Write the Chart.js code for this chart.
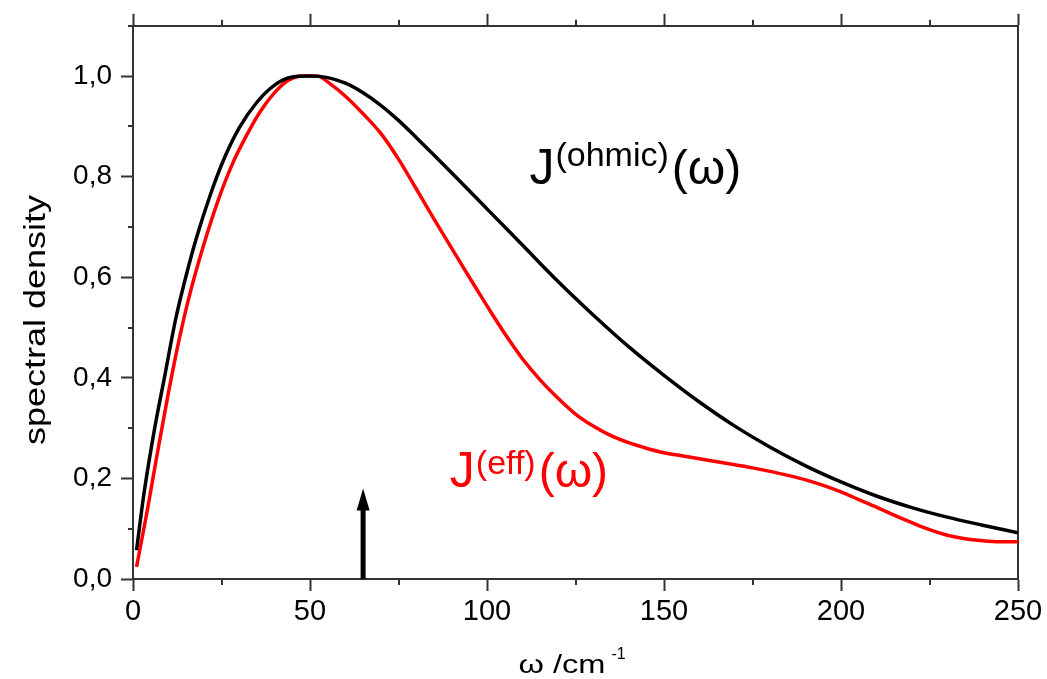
<!DOCTYPE html>
<html>
<head>
<meta charset="utf-8">
<script src="https://cdn.jsdelivr.net/npm/chart.js@4"></script>
<style>
  html, body { margin: 0; padding: 0; background: #fff; }
  #wrap { width: 1047px; height: 679px; position: relative; }
</style>
</head>
<body>
<div id="wrap"><canvas id="c" width="1047" height="679"></canvas></div>
<script>
// Ohmic spectral density J(ohmic)(w), normalised
const omegaOhmic = [1, 3, 6, 9, 12, 15, 18, 22, 26, 30, 35, 40, 45, 50, 55, 60, 65, 70, 75, 80, 90, 100, 110, 120, 130, 140, 150, 160, 170, 180, 190, 200, 210, 220, 230, 240, 250];
const jOhmic = [0.057, 0.165, 0.295, 0.405, 0.515, 0.603, 0.68, 0.767, 0.84, 0.897, 0.948, 0.982, 0.998, 1.0, 0.997, 0.986, 0.967, 0.942, 0.912, 0.878, 0.808, 0.736, 0.664, 0.592, 0.525, 0.462, 0.405, 0.352, 0.304, 0.262, 0.225, 0.193, 0.165, 0.142, 0.123, 0.107, 0.092];

// Effective spectral density J(eff)(w), normalised
const omegaEff = [1, 4, 7, 10, 13, 16, 20, 24, 28, 32, 36, 40, 44, 48, 52, 56, 60, 65, 70, 75, 80, 85, 90, 95, 100, 105, 110, 115, 120, 125, 130, 135, 140, 145, 150, 155, 160, 165, 170, 175, 180, 185, 190, 195, 200, 205, 210, 215, 220, 225, 230, 235, 240, 245, 250];
const jEff = [0.024, 0.135, 0.255, 0.37, 0.475, 0.565, 0.665, 0.752, 0.824, 0.881, 0.930, 0.967, 0.992, 1.0, 1.0, 0.983, 0.960, 0.925, 0.886, 0.835, 0.776, 0.716, 0.658, 0.600, 0.543, 0.488, 0.438, 0.396, 0.360, 0.328, 0.304, 0.285, 0.271, 0.260, 0.251, 0.245, 0.239, 0.233, 0.227, 0.221, 0.214, 0.206, 0.197, 0.186, 0.173, 0.158, 0.143, 0.127, 0.112, 0.098, 0.087, 0.080, 0.076, 0.074, 0.074];

// Marked frequency (arrow)
const arrowOmega = [65];
const arrowTop = [0.18];

// Axis ranges and tick steps
const xRange = [0, 250];
const yRange = [0, 1.1];
const xMajorStep = 50, xMinorStep = 25;
const yMajorStep = 0.2, yMinorStep = 0.1;

const AXIS_COLOR = '#333';
const FONT = '"Liberation Sans", Arial, sans-serif';

const toXY = (xs, ys) => xs.map((x, i) => ({ x, y: ys[i] }));

const isMajorX = v => Math.abs(v / xMajorStep - Math.round(v / xMajorStep)) < 1e-6;
const isMajorY = v => Math.abs(v / yMajorStep - Math.round(v / yMajorStep)) < 1e-6;

// short minor ticks, plus arrow, titles and curve labels
const decorations = {
  id: 'decorations',
  afterDraw(chart) {
    const { ctx, chartArea: a, scales } = chart;
    const xs = scales.x, ys = scales.y;
    ctx.save();
    ctx.strokeStyle = AXIS_COLOR;
    ctx.lineWidth = 2;
    // minor ticks
    for (let v = xRange[0]; v <= xRange[1] + 1e-9; v += xMinorStep) {
      if (isMajorX(v)) continue;
      const px = Math.round(xs.getPixelForValue(v));
      ctx.beginPath(); ctx.moveTo(px, a.bottom); ctx.lineTo(px, a.bottom + 6); ctx.stroke();
      ctx.beginPath(); ctx.moveTo(px, a.top); ctx.lineTo(px, a.top - 6); ctx.stroke();
    }
    for (let v = yRange[0]; v <= yRange[1] + 1e-9; v += yMinorStep) {
      if (isMajorY(v)) continue;
      const py = Math.round(ys.getPixelForValue(v));
      ctx.beginPath(); ctx.moveTo(a.left, py); ctx.lineTo(a.left - 5, py); ctx.stroke();
    }

    // arrow
    ctx.fillStyle = '#000';
    arrowOmega.forEach((w, i) => {
      const px = xs.getPixelForValue(w);
      const y0 = ys.getPixelForValue(0);
      const y1 = ys.getPixelForValue(arrowTop[i]);
      const headLen = 22, headHalf = 6.5;
      ctx.fillRect(px - 2.5, y1 + headLen - 2, 5, y0 - (y1 + headLen - 2));
      ctx.beginPath();
      ctx.moveTo(px, y1);
      ctx.lineTo(px + headHalf, y1 + headLen);
      ctx.lineTo(px - headHalf, y1 + headLen);
      ctx.closePath();
      ctx.fill();
    });

    // axis titles
    ctx.fillStyle = '#000';
    ctx.textBaseline = 'alphabetic';
    ctx.save();
    ctx.translate(45, 320);
    ctx.rotate(-Math.PI / 2);
    ctx.font = '29px ' + FONT;
    const yt = 'spectral density';
    const ytw = ctx.measureText(yt).width;
    ctx.scale(250 / ytw, 1);
    ctx.textAlign = 'center';
    ctx.fillText(yt, 0, 0);
    ctx.restore();

    ctx.save();
    const cx = (a.left + a.right) / 2;
    const startX = cx - 57;
    ctx.font = '25px ' + FONT;
    ctx.textAlign = 'left';
    const main = 'ω /cm';
    const mw = ctx.measureText(main).width;
    ctx.save();
    ctx.translate(startX, 673);
    ctx.scale(87 / mw, 1);
    ctx.fillText(main, 0, 0);
    ctx.restore();
    ctx.font = '16px ' + FONT;
    ctx.fillText('-1', startX + 93, 659);
    ctx.restore();

    // curve labels
    const drawLabel = (color, w, v, supText, supRise) => {
      const x0 = xs.getPixelForValue(w);
      const base = ys.getPixelForValue(v);
      ctx.save();
      ctx.fillStyle = color;
      ctx.textAlign = 'left';
      ctx.font = '50px ' + FONT;
      ctx.fillText('J', x0, base);
      let x = x0 + ctx.measureText('J').width + 1;
      ctx.font = '34px ' + FONT;
      ctx.fillText(supText, x, base - supRise);
      x += ctx.measureText(supText).width + 3;
      ctx.font = '48px ' + FONT;
      ctx.fillText('(ω)', x, base);
      ctx.restore();
    };
    drawLabel('#000', 112, 0.785, '(ohmic)', 18);
    drawLabel('#ff0000', 89.5, 0.182, '(eff)', 13);

    ctx.restore();
  }
};

new Chart(document.getElementById('c'), {
  type: 'line',
  data: {
    datasets: [
      {
        label: 'J(ohmic)',
        data: toXY(omegaOhmic, jOhmic),
        borderColor: '#000000',
        borderWidth: 3.5,
        pointRadius: 0,
        cubicInterpolationMode: 'monotone',
        fill: false
      },
      {
        label: 'J(eff)',
        data: toXY(omegaEff, jEff),
        borderColor: '#ff0000',
        borderWidth: 3.5,
        pointRadius: 0,
        cubicInterpolationMode: 'monotone',
        fill: false
      }
    ]
  },
  options: {
    responsive: false,
    animation: false,
    devicePixelRatio: 1,
    layout: { padding: { left: 0, right: 29, top: 0, bottom: 0 } },
    plugins: { legend: { display: false }, tooltip: { enabled: false } },
    scales: {
      x: {
        type: 'linear',
        position: 'bottom',
        min: xRange[0], max: xRange[1],
        afterFit: s => { s.height = 100; },
        ticks: {
          stepSize: xMajorStep,
          autoSkip: false,
          maxRotation: 0,
          padding: 4,
          color: '#000',
          font: { family: FONT, size: 29 },
          callback: v => String(v)
        },
        grid: { drawOnChartArea: false, drawTicks: true, tickLength: 12, tickColor: AXIS_COLOR, tickWidth: 2 },
        border: { display: true, color: AXIS_COLOR, width: 2 }
      },
      xTop: {
        type: 'linear',
        position: 'top',
        min: xRange[0], max: xRange[1],
        afterFit: s => { s.height = 23; },
        ticks: { stepSize: xMajorStep, display: false },
        grid: { drawOnChartArea: false, drawTicks: true, tickLength: 12, tickColor: AXIS_COLOR, tickWidth: 2 },
        border: { display: true, color: AXIS_COLOR, width: 2 }
      },
      y: {
        type: 'linear',
        position: 'left',
        min: yRange[0], max: yRange[1],
        afterFit: s => { s.width = 133; },
        afterBuildTicks: s => {
          const t = [];
          for (let v = 0; v <= 1.0 + 1e-9; v += yMajorStep) t.push({ value: Math.round(v * 10) / 10 });
          s.ticks = t;
        },
        ticks: {
          padding: 9,
          color: '#000',
          font: { family: FONT, size: 28 },
          callback: v => v.toFixed(1).replace('.', ',')
        },
        grid: { drawOnChartArea: false, drawTicks: true, tickLength: 12, tickColor: AXIS_COLOR, tickWidth: 2 },
        border: { display: true, color: AXIS_COLOR, width: 2 }
      },
      yRight: {
        type: 'linear',
        position: 'right',
        min: yRange[0], max: yRange[1],
        afterFit: s => { s.width = 0; },
        ticks: { display: false },
        grid: { drawOnChartArea: false, drawTicks: false },
        border: { display: true, color: AXIS_COLOR, width: 2 }
      }
    }
  },
  plugins: [decorations]
});
</script>
</body>
</html>
